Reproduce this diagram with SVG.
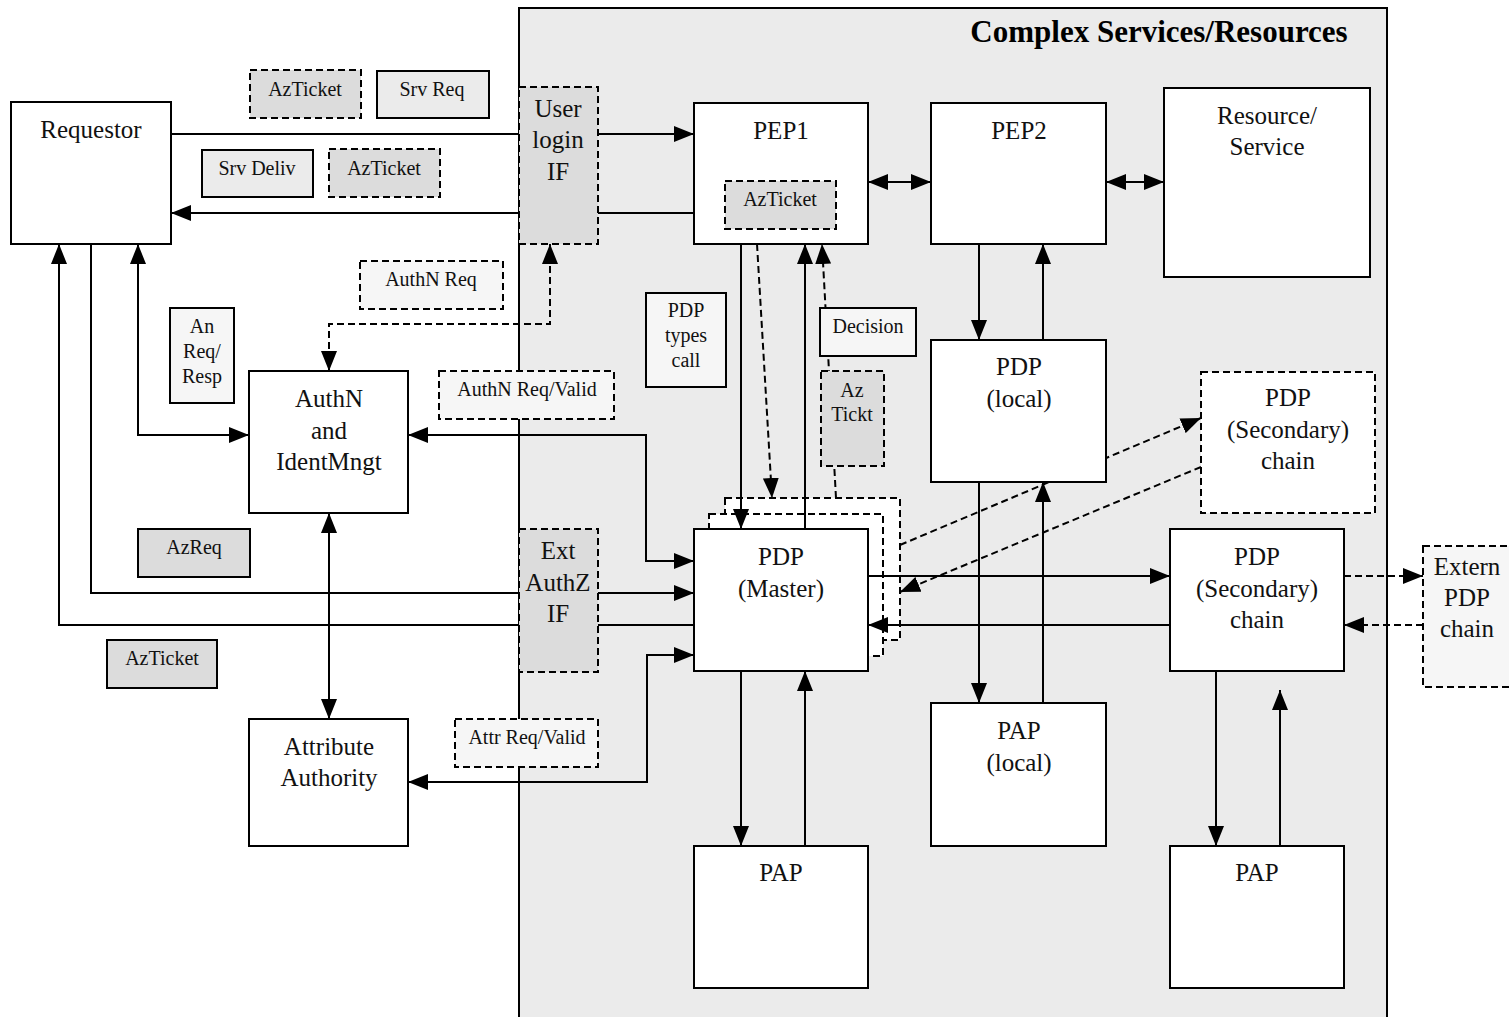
<svg xmlns="http://www.w3.org/2000/svg" width="1509" height="1017" viewBox="0 0 1509 1017">
<style>
.box{fill:#fff;stroke:#000;stroke-width:2}
.dash{stroke-dasharray:7,4}
.g1{fill:#dcdcdc}
.g2{fill:#ebebeb}
.g3{fill:#f6f6f6}
.t{font-family:"Liberation Serif","Times New Roman",serif;font-size:25px;fill:#111;text-anchor:middle}
.s{font-family:"Liberation Serif","Times New Roman",serif;font-size:20px;fill:#111;text-anchor:middle}
.c{fill:none;stroke:#000;stroke-width:2}
.ttl{font-family:"Liberation Serif","Times New Roman",serif;font-size:31px;font-weight:bold;fill:#000;text-anchor:middle}
</style>
<defs>
<marker id="ah" markerUnits="userSpaceOnUse" markerWidth="20" markerHeight="16" refX="20" refY="8" orient="auto-start-reverse" viewBox="0 0 20 16">
<path d="M0,0 L20,8 L0,16 z" fill="#000"/>
</marker>
</defs>
<rect width="1509" height="1017" fill="#fff"/>
<g id="container">
<rect x="519" y="8" width="868" height="1030" fill="#ebebeb" stroke="#000" stroke-width="2"/>
<text class="ttl" x="1159" y="42">Complex Services/Resources</text>
</g>
<g id="pdp-master-stack">
<rect class="box dash" x="725" y="498" width="175" height="142"/>
<rect class="box dash" x="709" y="514" width="174" height="142"/>
</g>
<g id="connectors">
<path class="c" d="M171,134 H694" marker-end="url(#ah)"/>
<path class="c" d="M694,213 H171" marker-end="url(#ah)"/>
<path class="c" d="M868,182 H931" marker-start="url(#ah)" marker-end="url(#ah)"/>
<path class="c" d="M1106,182 H1164" marker-start="url(#ah)" marker-end="url(#ah)"/>
<path class="c" d="M979,244 V340" marker-end="url(#ah)"/>
<path class="c" d="M1043,340 V244" marker-end="url(#ah)"/>
<path class="c" d="M741,244 V529" marker-end="url(#ah)"/>
<path class="c" d="M805,529 V244" marker-end="url(#ah)"/>
<path class="c dash" d="M757,244 L772,498" marker-end="url(#ah)"/>
<path class="c dash" d="M836,498 L822,244" marker-end="url(#ah)"/>
<path class="c" d="M868,576 H1170" marker-end="url(#ah)"/>
<path class="c" d="M1170,625 H868" marker-end="url(#ah)"/>
<path class="c dash" d="M1344,576 H1423" marker-end="url(#ah)"/>
<path class="c dash" d="M1423,625 H1344" marker-end="url(#ah)"/>
<path class="c" d="M741,671 V846" marker-end="url(#ah)"/>
<path class="c" d="M805,846 V671" marker-end="url(#ah)"/>
<path class="c" d="M979,482 V703" marker-end="url(#ah)"/>
<path class="c" d="M1043,703 V482" marker-end="url(#ah)"/>
<path class="c" d="M1216,671 V846" marker-end="url(#ah)"/>
<path class="c" d="M1280,846 V690" marker-end="url(#ah)"/>
<path class="c dash" d="M900,545 L1201,418" marker-end="url(#ah)"/>
<path class="c dash" d="M1201,467 L900,592" marker-end="url(#ah)"/>
<path class="c" d="M91,244 V593 H694" marker-end="url(#ah)"/>
<path class="c" d="M694,625 H59 V244" marker-end="url(#ah)"/>
<path class="c" d="M138,244 V435 H249" marker-start="url(#ah)" marker-end="url(#ah)"/>
<path class="c" d="M408,435 H646 V561 H694" marker-start="url(#ah)" marker-end="url(#ah)"/>
<path class="c" d="M694,655 H647 V782 H408" marker-start="url(#ah)" marker-end="url(#ah)"/>
<path class="c" d="M329,513 V719" marker-start="url(#ah)" marker-end="url(#ah)"/>
<path class="c dash" d="M550,244 V324 H329 V371" marker-start="url(#ah)" marker-end="url(#ah)"/>
</g>
<g id="requestor"><rect class="box" x="11" y="102" width="160" height="142"/><text class="t" x="91" y="138">Requestor</text></g>
<g id="lbl-azticket-1"><rect class="box dash g1" x="250" y="70" width="111" height="48"/><text class="s" x="305" y="96">AzTicket</text></g>
<g id="lbl-srvreq"><rect class="box g2" x="377" y="71" width="112" height="47"/><text class="s" x="432" y="96">Srv Req</text></g>
<g id="lbl-srvdeliv"><rect class="box g2" x="202" y="150" width="111" height="47"/><text class="s" x="257" y="175">Srv Deliv</text></g>
<g id="lbl-azticket-2"><rect class="box dash g1" x="329" y="149" width="111" height="48"/><text class="s" x="384" y="175">AzTicket</text></g>
<g id="user-login-if"><rect class="box dash g1" x="519" y="87" width="79" height="157"/><text class="t" x="558" y="117">User</text><text class="t" x="558" y="148">login</text><text class="t" x="558" y="180">IF</text></g>
<g id="pep1"><rect class="box" x="694" y="103" width="174" height="141"/><text class="t" x="781" y="139">PEP1</text>
<rect class="box dash g1" x="725" y="181" width="111" height="48"/><text class="s" x="780" y="206">AzTicket</text></g>
<g id="pep2"><rect class="box" x="931" y="103" width="175" height="141"/><text class="t" x="1019" y="139">PEP2</text></g>
<g id="resource"><rect class="box" x="1164" y="88" width="206" height="189"/><text class="t" x="1267" y="124">Resource/</text><text class="t" x="1267" y="155">Service</text></g>
<g id="lbl-authnreq"><rect class="box dash g3" x="360" y="261" width="143" height="48"/><text class="s" x="431" y="286">AuthN Req</text></g>
<g id="lbl-anreq"><rect class="box g3" x="170" y="308" width="64" height="95"/><text class="s" x="202" y="333">An</text><text class="s" x="202" y="358">Req/</text><text class="s" x="202" y="383">Resp</text></g>
<g id="lbl-pdptypes"><rect class="box g3" x="646" y="293" width="80" height="94"/><text class="s" x="686" y="317">PDP</text><text class="s" x="686" y="342">types</text><text class="s" x="686" y="367">call</text></g>
<g id="lbl-decision"><rect class="box g3" x="820" y="308" width="96" height="48"/><text class="s" x="868" y="333">Decision</text></g>
<g id="lbl-aztickt"><rect class="box dash g1" x="821" y="371" width="63" height="95"/><text class="s" x="852" y="397">Az</text><text class="s" x="852" y="421">Tickt</text></g>
<g id="authn"><rect class="box" x="249" y="371" width="159" height="142"/><text class="t" x="329" y="407">AuthN</text><text class="t" x="329" y="439">and</text><text class="t" x="329" y="470">IdentMngt</text></g>
<g id="lbl-authnvalid"><rect class="box dash g3" x="439" y="371" width="175" height="48"/><text class="s" x="527" y="396">AuthN Req/Valid</text></g>
<g id="pdp-local"><rect class="box" x="931" y="340" width="175" height="142"/><text class="t" x="1019" y="375">PDP</text><text class="t" x="1019" y="407">(local)</text></g>
<g id="pdp-secondary-dashed"><rect class="box dash" x="1201" y="372" width="174" height="141"/><text class="t" x="1288" y="406">PDP</text><text class="t" x="1288" y="438">(Secondary)</text><text class="t" x="1288" y="469">chain</text></g>
<g id="lbl-azreq"><rect class="box g1" x="138" y="529" width="112" height="48"/><text class="s" x="194" y="554">AzReq</text></g>
<g id="ext-authz-if"><rect class="box dash g1" x="519" y="529" width="79" height="143"/><text class="t" x="558" y="559">Ext</text><text class="t" x="558" y="591">AuthZ</text><text class="t" x="558" y="622">IF</text></g>
<g id="pdp-master"><rect class="box" x="694" y="529" width="174" height="142"/><text class="t" x="781" y="565">PDP</text><text class="t" x="781" y="597">(Master)</text></g>
<g id="pdp-secondary"><rect class="box" x="1170" y="529" width="174" height="142"/><text class="t" x="1257" y="565">PDP</text><text class="t" x="1257" y="597">(Secondary)</text><text class="t" x="1257" y="628">chain</text></g>
<g id="extern"><rect class="box dash g3" x="1423" y="546" width="88" height="141"/><text class="t" x="1467" y="575">Extern</text><text class="t" x="1467" y="606">PDP</text><text class="t" x="1467" y="637">chain</text></g>
<g id="lbl-azticket-3"><rect class="box g1" x="107" y="640" width="110" height="48"/><text class="s" x="162" y="665">AzTicket</text></g>
<g id="pap-local"><rect class="box" x="931" y="703" width="175" height="143"/><text class="t" x="1019" y="739">PAP</text><text class="t" x="1019" y="771">(local)</text></g>
<g id="attr-authority"><rect class="box" x="249" y="719" width="159" height="127"/><text class="t" x="329" y="755">Attribute</text><text class="t" x="329" y="786">Authority</text></g>
<g id="lbl-attrvalid"><rect class="box dash g3" x="455" y="719" width="143" height="48"/><text class="s" x="527" y="744">Attr Req/Valid</text></g>
<g id="pap"><rect class="box" x="694" y="846" width="174" height="142"/><text class="t" x="781" y="881">PAP</text></g>
<g id="pap-2"><rect class="box" x="1170" y="846" width="174" height="142"/><text class="t" x="1257" y="881">PAP</text></g>
</svg>
